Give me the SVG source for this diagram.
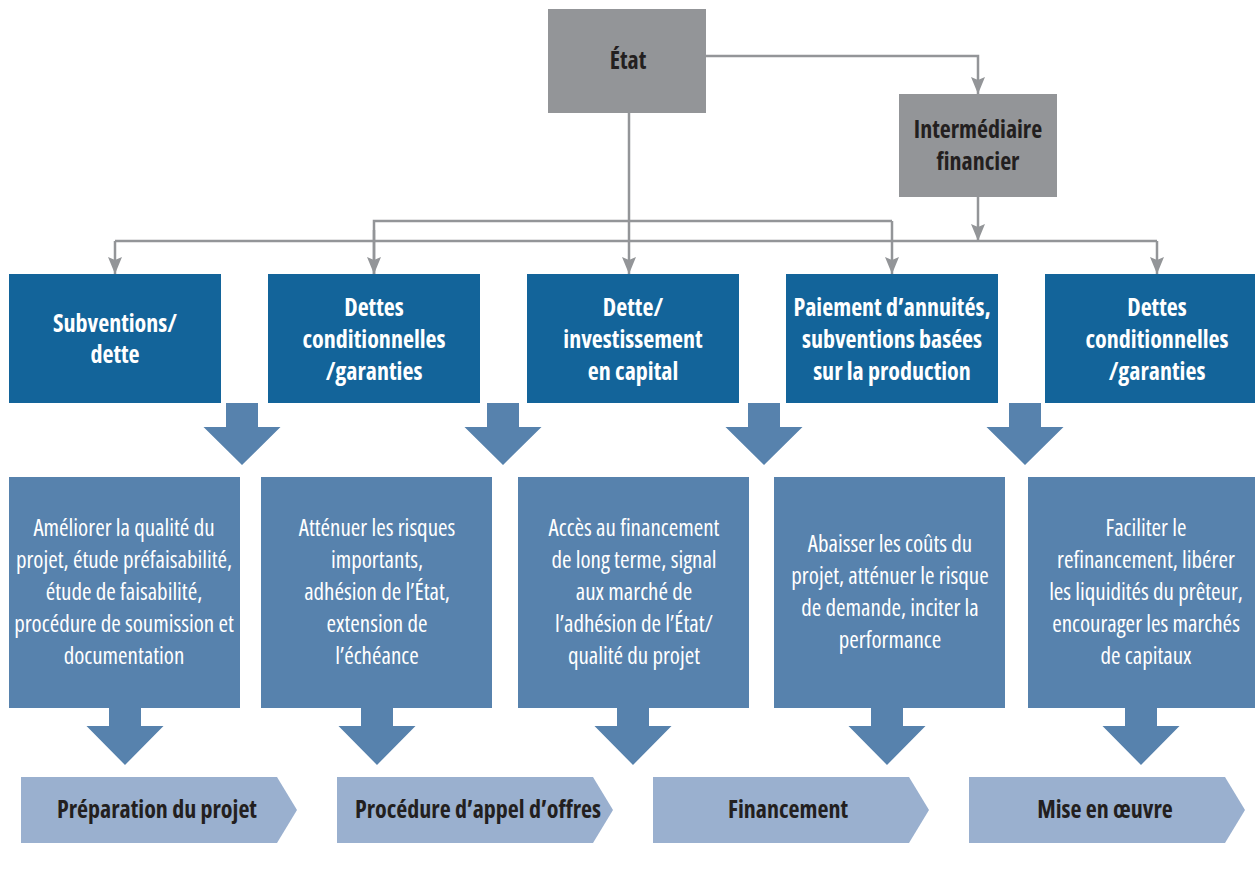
<svg xmlns="http://www.w3.org/2000/svg" width="1255" height="882" viewBox="0 0 1255 882">
<defs>
<style>
text{font-family:"Open Sans","Liberation Sans",sans-serif;font-stretch:75%;text-anchor:middle}
.gray{fill:#939598}
.dark{fill:#13649a}
.mid{fill:#5782ad}
.light{fill:#9ab0cf}
.h{font-weight:700;font-size:24px;fill:#ffffff}
.g{font-weight:700;font-size:24px;fill:#231f20}
.b{font-weight:400;font-size:23px;fill:#ffffff}
.c{font-weight:700;font-size:24px;fill:#231f20}
.ln{fill:none;stroke:#939598;stroke-width:2.5}
</style>
<marker id="ah" markerUnits="userSpaceOnUse" markerWidth="17" markerHeight="14" viewBox="0 0 17 14" refX="17" refY="7" orient="auto">
<path d="M0,0 L17,7 L0,14 L3,7 Z" fill="#939598"/>
</marker>
<path id="arrA" d="M-16,0 H16 V24 H38.5 L0,62 L-38.5,24 H-16 Z" fill="#5782ad"/>
<path id="arrB" d="M-16,0 H16 V18 H38.5 L0,57 L-38.5,18 H-16 Z" fill="#5782ad"/>
<path id="chev" d="M0,0 H256 L276,33 L256,66 H0 Z" fill="#9ab0cf"/>
</defs>

<g id="connectors">
<path class="ln" d="M706,56 H978 V94" marker-end="url(#ah)"/>
<path class="ln" d="M629,113 V274" marker-end="url(#ah)"/>
<path class="ln" d="M978,197 V241" marker-end="url(#ah)"/>
<path class="ln" d="M374,274 V221 H892"/>
<path class="ln" d="M374,230 V274" marker-end="url(#ah)"/>
<path class="ln" d="M892,221 V274" marker-end="url(#ah)"/>
<path class="ln" d="M115,241 H1157"/>
<path class="ln" d="M115,241 V274" marker-end="url(#ah)"/>
<path class="ln" d="M1157,241 V274" marker-end="url(#ah)"/>
</g>

<g id="etat">
<rect class="gray" x="548" y="9" width="158" height="104"/>
<text class="g" x="628" y="69">État</text>
</g>
<g id="intermediaire">
<rect class="gray" x="899" y="94" width="158" height="103"/>
<text class="g" x="978" y="138">Intermédiaire</text>
<text class="g" x="978" y="170">financier</text>
</g>

<g id="inst1">
<rect class="dark" x="9" y="274" width="212" height="129"/>
<text class="h" x="115" y="332">Subventions/</text>
<text class="h" x="115" y="363">dette</text>
</g>
<g id="inst2">
<rect class="dark" x="268" y="274" width="212" height="129"/>
<text class="h" x="374" y="316">Dettes</text>
<text class="h" x="374" y="348">conditionnelles</text>
<text class="h" x="374" y="380">/garanties</text>
</g>
<g id="inst3">
<rect class="dark" x="527" y="274" width="212" height="129"/>
<text class="h" x="633" y="316">Dette/</text>
<text class="h" x="633" y="348">investissement</text>
<text class="h" x="633" y="380">en capital</text>
</g>
<g id="inst4">
<rect class="dark" x="786" y="274" width="212" height="129"/>
<text class="h" x="892" y="316">Paiement d’annuités,</text>
<text class="h" x="892" y="348">subventions basées</text>
<text class="h" x="892" y="380">sur la production</text>
</g>
<g id="inst5">
<rect class="dark" x="1045" y="274" width="224" height="129"/>
<text class="h" x="1157" y="316">Dettes</text>
<text class="h" x="1157" y="348">conditionnelles</text>
<text class="h" x="1157" y="380">/garanties</text>
</g>

<g id="bigarrows1">
<use href="#arrA" x="242" y="403"/>
<use href="#arrA" x="503" y="403"/>
<use href="#arrA" x="764" y="403"/>
<use href="#arrA" x="1025" y="403"/>
</g>

<g id="obj1">
<rect class="mid" x="9" y="477" width="231" height="231"/>
<text class="b" x="124" y="536">Améliorer la qualité du</text>
<text class="b" x="124" y="568">projet, étude préfaisabilité,</text>
<text class="b" x="124" y="600">étude de faisabilité,</text>
<text class="b" x="124" y="632">procédure de soumission et</text>
<text class="b" x="124" y="664">documentation</text>
</g>
<g id="obj2">
<rect class="mid" x="261" y="477" width="231" height="231"/>
<text class="b" x="377" y="536">Atténuer les risques</text>
<text class="b" x="377" y="568">importants,</text>
<text class="b" x="377" y="600">adhésion de l’État,</text>
<text class="b" x="377" y="632">extension de</text>
<text class="b" x="377" y="664">l’échéance</text>
</g>
<g id="obj3">
<rect class="mid" x="518" y="477" width="231" height="231"/>
<text class="b" x="634" y="536">Accès au financement</text>
<text class="b" x="634" y="568">de long terme, signal</text>
<text class="b" x="634" y="600">aux marché de</text>
<text class="b" x="634" y="632">l’adhésion de l’État/</text>
<text class="b" x="634" y="664">qualité du projet</text>
</g>
<g id="obj4">
<rect class="mid" x="774" y="477" width="231" height="231"/>
<text class="b" x="890" y="552">Abaisser les coûts du</text>
<text class="b" x="890" y="584">projet, atténuer le risque</text>
<text class="b" x="890" y="616">de demande, inciter la</text>
<text class="b" x="890" y="648">performance</text>
</g>
<g id="obj5">
<rect class="mid" x="1028" y="477" width="235" height="231"/>
<text class="b" x="1146" y="536">Faciliter le</text>
<text class="b" x="1146" y="568">refinancement, libérer</text>
<text class="b" x="1146" y="600">les liquidités du prêteur,</text>
<text class="b" x="1146" y="632">encourager les marchés</text>
<text class="b" x="1146" y="664">de capitaux</text>
</g>

<g id="bigarrows2">
<use href="#arrB" x="125" y="708"/>
<use href="#arrB" x="377" y="708"/>
<use href="#arrB" x="633" y="708"/>
<use href="#arrB" x="887" y="708"/>
<use href="#arrB" x="1141" y="708"/>
</g>

<g id="phase1">
<use href="#chev" x="21" y="777"/>
<text class="c" x="157" y="818">Préparation du projet</text>
</g>
<g id="phase2">
<use href="#chev" x="337" y="777"/>
<text class="c" x="478" y="818">Procédure d’appel d’offres</text>
</g>
<g id="phase3">
<use href="#chev" x="653" y="777"/>
<text class="c" x="788" y="818">Financement</text>
</g>
<g id="phase4">
<use href="#chev" x="969" y="777"/>
<text class="c" x="1105" y="818">Mise en œuvre</text>
</g>
</svg>
